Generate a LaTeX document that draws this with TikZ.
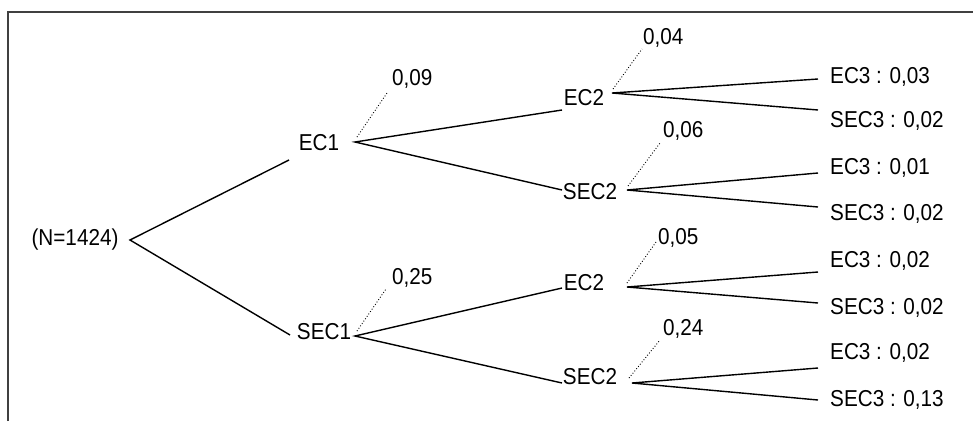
\documentclass[tikz,border=0pt]{standalone}
\usepackage{fontspec}
\setmainfont[FakeStretch=0.9]{Liberation Sans}
\begin{document}
\begin{tikzpicture}[x=1pt,y=-1pt,
  lbl/.style={inner sep=0pt,font=\fontsize{23}{23}\selectfont},
  leaf/.style={lbl,anchor=west},
  prob/.style={lbl,anchor=west},
  branch/.style={line width=1.4pt,black},
  dots/.style={line width=0.9pt,dotted,black},
  frameline/.style={line width=2pt,draw=black!75}]
\useasboundingbox (0,0) rectangle (973,421);
\draw[frameline] (8,421) -- (8,12) -- (975,12);
% root
\node[lbl] (N) at (75,240) {(N=1424)};
\coordinate (Nout) at (130,240);
% level 1
\node[lbl] (EC1) at (319,143) {EC1};
\coordinate (EC1in) at (289,160);
\coordinate (EC1out) at (355,142);
\node[lbl] (SEC1) at (324,332) {SEC1};
\coordinate (SEC1in) at (290,335);
\coordinate (SEC1out) at (355,336);
% level 2
\node[lbl] (EC2a) at (584,98) {EC2};
\coordinate (EC2ain) at (562,110);
\coordinate (EC2aout) at (612,93);
\node[lbl] (SEC2a) at (590,192) {SEC2};
\coordinate (SEC2ain) at (562,190);
\coordinate (SEC2aout) at (627,190);
\node[lbl] (EC2b) at (584,283) {EC2};
\coordinate (EC2bin) at (562,288);
\coordinate (EC2bout) at (627,287);
\node[lbl] (SEC2b) at (590,377) {SEC2};
\coordinate (SEC2bin) at (562,383);
\coordinate (SEC2bout) at (632,383);
% leaves
\node[leaf] (L1) at (830,77) {EC3 : 0,03};
\node[leaf] (L2) at (830,121) {SEC3 : 0,02};
\node[leaf] (L3) at (830,168) {EC3 : 0,01};
\node[leaf] (L4) at (830,214) {SEC3 : 0,02};
\node[leaf] (L5) at (830,261) {EC3 : 0,02};
\node[leaf] (L6) at (830,308) {SEC3 : 0,02};
\node[leaf] (L7) at (830,353) {EC3 : 0,02};
\node[leaf] (L8) at (830,400) {SEC3 : 0,13};
\coordinate (L1in) at (818,79);
\coordinate (L2in) at (818,110);
\coordinate (L3in) at (818,173);
\coordinate (L4in) at (818,207);
\coordinate (L5in) at (818,272);
\coordinate (L6in) at (818,303);
\coordinate (L7in) at (818,368);
\coordinate (L8in) at (818,400);
% probabilities
\node[prob] (P1) at (392,79) {0,09};
\node[prob] (P2) at (392,278) {0,25};
\node[prob] (P3) at (643,38) {0,04};
\node[prob] (P4) at (663,131) {0,06};
\node[prob] (P5) at (658,238) {0,05};
\node[prob] (P6) at (663,329) {0,24};
\coordinate (P1in) at (387,93);
\coordinate (P2in) at (386,289);
\coordinate (P3in) at (642,49);
\coordinate (P4in) at (660,143);
\coordinate (P5in) at (656,242);
\coordinate (P6in) at (660,340);
\coordinate (D1) at (357,137);
\coordinate (D2) at (357,331);
\coordinate (D3) at (613,89);
\coordinate (D4) at (628,186);
\coordinate (D5) at (627,283);
\coordinate (D6) at (629,378);
% connectors
\draw[branch] (EC1in) -- (Nout) -- (SEC1in);
\draw[branch] (EC2ain) -- (EC1out) -- (SEC2ain);
\draw[branch] (EC2bin) -- (SEC1out) -- (SEC2bin);
\draw[branch] (L1in) -- (EC2aout) -- (L2in);
\draw[branch] (L3in) -- (SEC2aout) -- (L4in);
\draw[branch] (L5in) -- (EC2bout) -- (L6in);
\draw[branch] (L7in) -- (SEC2bout) -- (L8in);
\draw[dots] (D1) -- (P1in);
\draw[dots] (D2) -- (P2in);
\draw[dots] (D3) -- (P3in);
\draw[dots] (D4) -- (P4in);
\draw[dots] (D5) -- (P5in);
\draw[dots] (D6) -- (P6in);
\end{tikzpicture}
\end{document}
